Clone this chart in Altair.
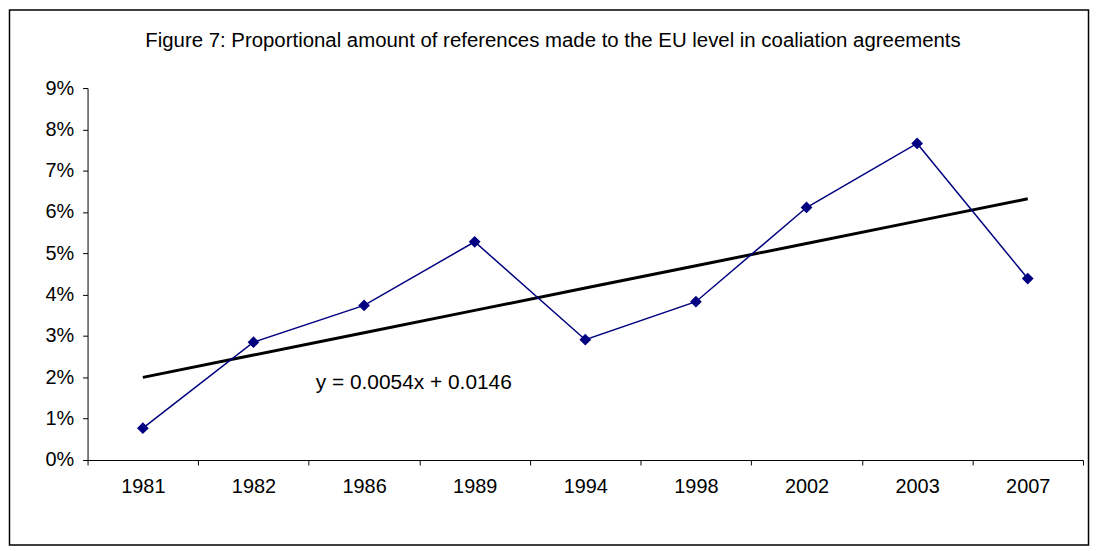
import altair as alt
import pandas as pd

# ---- data ----
years = ["1981", "1982", "1986", "1989", "1994", "1998", "2002", "2003", "2007"]
share = [0.0077, 0.0285, 0.0374, 0.0528, 0.0291, 0.0383, 0.0611, 0.0766, 0.0439]
y_ticks = [0.0, 0.01, 0.02, 0.03, 0.04, 0.05, 0.06, 0.07, 0.08, 0.09]
trend_slope = 0.0054
trend_intercept = 0.0146
title_text = "Figure 7: Proportional amount of references made to the EU level in coaliation agreements"
equation_text = "y = 0.0054x + 0.0146"

df = pd.DataFrame({"year": years, "share": share, "idx": list(range(1, len(years) + 1))})

FONT = "Liberation Sans"
W, H = 1001, 374

x_enc = alt.X(
    "year:O",
    sort=years,
    bandPosition=0.5,
    scale=alt.Scale(type="band", paddingInner=0, paddingOuter=0),
    axis=alt.Axis(
        title=None, labelAngle=0, tickBand="extent", tickSize=5,
        labelPadding=12, labelFontSize=20, labelFont=FONT, labelColor="black",
        domainColor="black", tickColor="black", grid=False,
    ),
)
y_scale = alt.Scale(domain=[0, 0.09], nice=False, zero=True)

base = alt.Chart(df)

line = base.mark_line(color="#000080", strokeWidth=1.5).encode(
    x=x_enc,
    y=alt.Y(
        "share:Q", scale=y_scale,
        axis=alt.Axis(
            title=None, values=y_ticks, format=".0%", tickSize=5, labelPadding=9,
            labelFontSize=20, labelFont=FONT, labelColor="black",
            domainColor="black", tickColor="black", grid=False,
        ),
    ),
)
points = base.mark_point(shape="diamond", filled=True, color="#000080", size=140, opacity=1).encode(
    x=x_enc, y=alt.Y("share:Q", scale=y_scale)
)
trend = base.transform_calculate(
    trend=f"{trend_slope}*datum.idx+{trend_intercept}"
).mark_line(color="black", strokeWidth=3).encode(
    x=x_enc, y=alt.Y("trend:Q", scale=y_scale)
)

eq = alt.Chart(pd.DataFrame({"t": [equation_text]})).mark_text(
    font=FONT, fontSize=21, color="black", align="center", baseline="middle"
).encode(x=alt.value(328), y=alt.value(297), text="t:N")

title = alt.Chart(pd.DataFrame({"t": [title_text]})).mark_text(
    font=FONT, fontSize=20.5, color="black", align="center", baseline="middle"
).encode(x=alt.value(468), y=alt.value(-47), text="t:N")

frame = alt.Chart(pd.DataFrame({"f": [0]})).mark_rect(
    fill=None, fillOpacity=0, stroke="black", strokeWidth=1.5
).encode(x=alt.value(-78.5), x2=alt.value(1006.5), y=alt.value(-78.5), y2=alt.value(459.5))

chart = alt.layer(frame, trend, line, points, eq, title).properties(
    width=W, height=H,
    autosize=alt.AutoSizeParams(type="none"),
    padding={"left": 80, "top": 79, "right": 7, "bottom": 87},
    background="white",
).configure_view(stroke=None)

chart.save("out.html", embed_options={"renderer": "svg", "actions": False})
